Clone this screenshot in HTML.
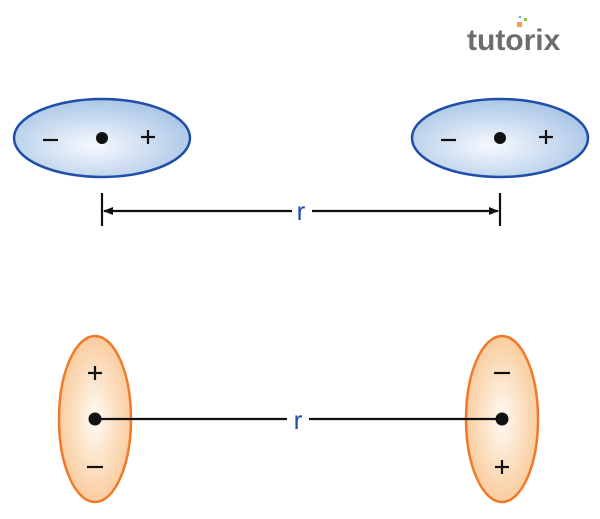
<!DOCTYPE html>
<html><head><style>body{margin:0;background:#fff;width:600px;height:514px;overflow:hidden}</style></head>
<body>
<svg width="600" height="514" viewBox="0 0 600 514" xmlns="http://www.w3.org/2000/svg">
<defs>
<radialGradient id="b" cx="0.45" cy="0.6" r="0.6"><stop offset="0" stop-color="#f6f9fd"/><stop offset="1" stop-color="#aac6e7"/></radialGradient>
<radialGradient id="o" cx="0.5" cy="0.5" r="0.6"><stop offset="0" stop-color="#fffaf3"/><stop offset="1" stop-color="#f8c48e"/></radialGradient>
<marker id="ah" markerWidth="10" markerHeight="8" refX="9" refY="4" orient="auto" markerUnits="userSpaceOnUse"><path d="M0,0 L10,4 L0,8 Z" fill="#111"/></marker>
</defs>
<text x="467" y="50" font-family="Liberation Sans, sans-serif" font-weight="bold" font-size="30" fill="#6d6d6d">tutorix</text>
<rect x="517" y="22" width="5" height="5" fill="#f2a05a"/><rect x="524" y="18" width="3" height="3" fill="#8cc04a"/><rect x="519" y="16" width="2" height="2" fill="#6aa0d8"/>
<ellipse cx="102" cy="138" rx="88" ry="39" fill="url(#b)" stroke="#1f4fa8" stroke-width="2.5"/>
<ellipse cx="500" cy="138" rx="88" ry="39" fill="url(#b)" stroke="#1f4fa8" stroke-width="2.5"/>
<g stroke="#111" stroke-width="2.2">
<line x1="43" y1="140" x2="58" y2="140"/><line x1="141" y1="137" x2="155" y2="137"/><line x1="148" y1="130" x2="148" y2="144"/>
<line x1="441" y1="140" x2="456" y2="140"/><line x1="539" y1="137" x2="553" y2="137"/><line x1="546" y1="130" x2="546" y2="144"/>
<line x1="102" y1="193" x2="102" y2="226"/><line x1="500" y1="193" x2="500" y2="226"/>
<line x1="292" y1="211" x2="104" y2="211" marker-end="url(#ah)"/><line x1="312" y1="211" x2="498" y2="211" marker-end="url(#ah)"/>
</g>
<circle cx="102" cy="138" r="6" fill="#111"/><circle cx="500" cy="138" r="6" fill="#111"/>
<text x="301" y="220" text-anchor="middle" font-family="Liberation Sans, sans-serif" font-size="26" fill="#1f4fa8">r</text>
<ellipse cx="95" cy="419" rx="36" ry="83" fill="url(#o)" stroke="#f07a2a" stroke-width="2.5"/>
<ellipse cx="502" cy="419" rx="36" ry="83" fill="url(#o)" stroke="#f07a2a" stroke-width="2.5"/>
<g stroke="#111" stroke-width="2.2">
<line x1="95" y1="419" x2="287" y2="419"/><line x1="309" y1="419" x2="502" y2="419"/>
<line x1="88" y1="373" x2="102" y2="373"/><line x1="95" y1="366" x2="95" y2="380"/>
<line x1="87" y1="467" x2="103" y2="467"/>
<line x1="494" y1="373" x2="510" y2="373"/>
<line x1="495" y1="467" x2="509" y2="467"/><line x1="502" y1="460" x2="502" y2="474"/>
</g>
<circle cx="95" cy="419" r="6.5" fill="#111"/><circle cx="502" cy="419" r="6.5" fill="#111"/>
<text x="298" y="429" text-anchor="middle" font-family="Liberation Sans, sans-serif" font-size="26" fill="#1f4fa8">r</text>
</svg>
</body></html>
